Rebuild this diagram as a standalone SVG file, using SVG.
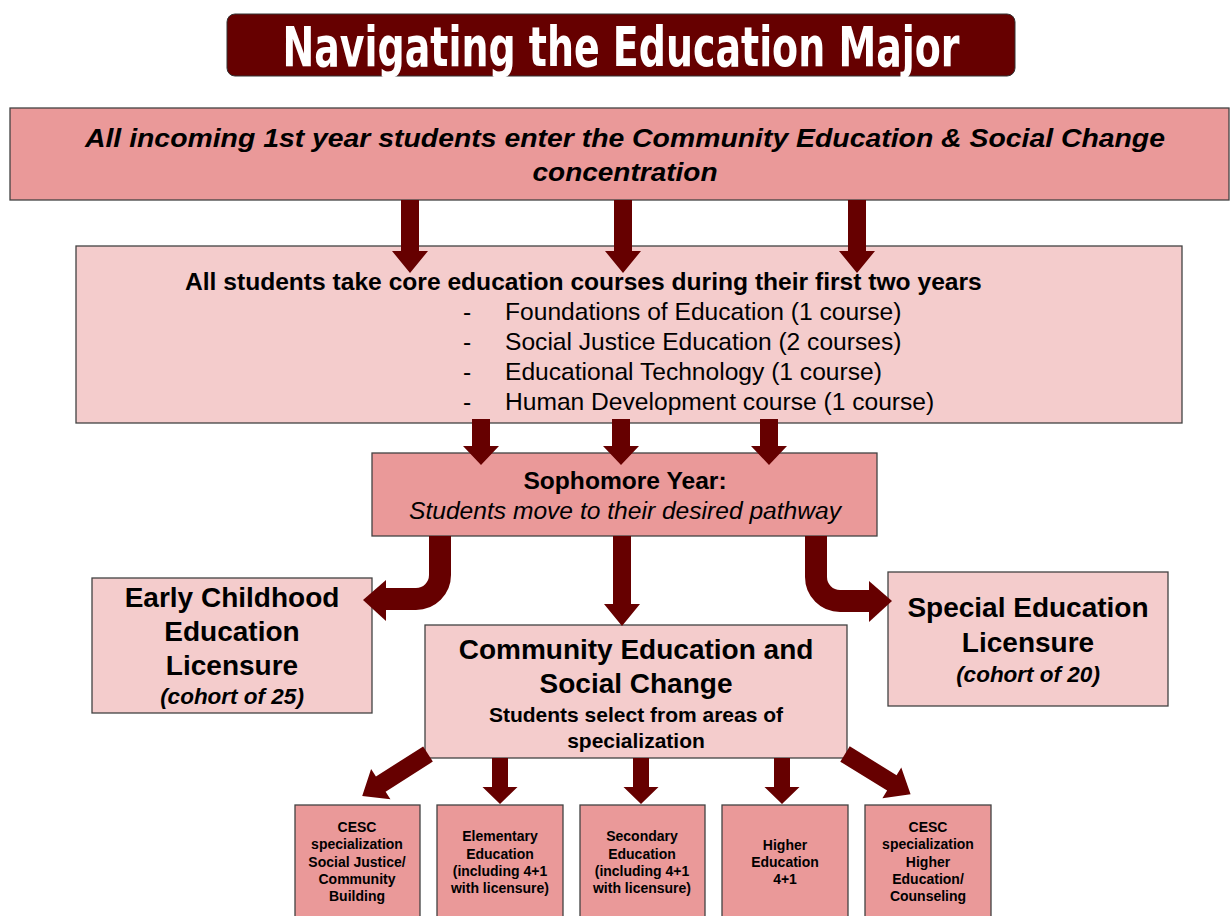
<svg xmlns="http://www.w3.org/2000/svg" width="1230" height="916" viewBox="0 0 1230 916">
<style>
  .box { stroke:#434343; stroke-width:1.3; }
  .dark { fill:#ea9999; }
  .light { fill:#f4cccc; }
  .t { font-family:"Liberation Sans", Arial, sans-serif; fill:#000; }
  .b { font-weight:bold; }
  .i { font-style:italic; }
  .c { text-anchor:middle; }
  .arr { fill:#660000; }
  .curve { fill:none; stroke:#660000; stroke-width:22; }
  .small { font-size:14px; font-weight:bold; }
</style>
<rect width="1230" height="916" fill="#ffffff"/>

<g id="title">
  <rect x="227" y="14" width="788" height="62" rx="8" fill="#660000" stroke="#333" stroke-width="1"/>
  <text x="621" y="66" class="c" font-family="'DejaVu Sans Condensed', 'Liberation Sans', sans-serif" font-weight="bold" font-size="56" fill="#ffffff" textLength="677" lengthAdjust="spacingAndGlyphs">Navigating the Education Major</text>
</g>

<g id="incoming">
  <rect x="10" y="108" width="1219" height="92" class="box dark"/>
  <text x="625" y="147" class="t b i c" font-size="26" textLength="1080" lengthAdjust="spacingAndGlyphs">All incoming 1st year students enter the Community Education &amp; Social Change</text>
  <text x="625" y="181" class="t b i c" font-size="26" textLength="185" lengthAdjust="spacingAndGlyphs">concentration</text>
</g>

<g id="core">
  <rect x="76" y="246" width="1106" height="177" class="box light"/>
  <text x="185" y="290" class="t b" font-size="24.6">All students take core education courses during their first two years</text>
  <g class="t" font-size="24.6">
    <text x="463" y="320">-</text><text x="505" y="320">Foundations of Education (1 course)</text>
    <text x="463" y="350">-</text><text x="505" y="350">Social Justice Education (2 courses)</text>
    <text x="463" y="380">-</text><text x="505" y="380">Educational Technology (1 course)</text>
    <text x="463" y="410">-</text><text x="505" y="410">Human Development course (1 course)</text>
  </g>
</g>

<g id="sophomore">
  <rect x="372" y="453" width="505" height="83" class="box dark"/>
  <text x="625" y="489" class="t b c" font-size="24.6">Sophomore Year:</text>
  <text x="625" y="519" class="t i c" font-size="24.6">Students move to their desired pathway</text>
</g>

<g id="early-childhood">
  <rect x="92" y="578" width="280" height="135" class="box light"/>
  <text x="232" y="607" class="t b c" font-size="28">Early Childhood</text>
  <text x="232" y="641" class="t b c" font-size="28">Education</text>
  <text x="232" y="675" class="t b c" font-size="28">Licensure</text>
  <text x="232" y="704" class="t b i c" font-size="22.5">(cohort of 25)</text>
</g>

<g id="special-education">
  <rect x="888" y="572" width="280" height="134" class="box light"/>
  <text x="1028" y="617" class="t b c" font-size="28">Special Education</text>
  <text x="1028" y="652" class="t b c" font-size="28">Licensure</text>
  <text x="1028" y="682" class="t b i c" font-size="22.5">(cohort of 20)</text>
</g>

<g id="community">
  <rect x="425" y="625" width="422" height="133" class="box light"/>
  <text x="636" y="659" class="t b c" font-size="28">Community Education and</text>
  <text x="636" y="693" class="t b c" font-size="28">Social Change</text>
  <text x="636" y="722" class="t b c" font-size="21">Students select from areas of</text>
  <text x="636" y="748" class="t b c" font-size="21">specialization</text>
</g>

<g id="cesc-social-justice">
  <rect x="295" y="805" width="125" height="120" class="box dark"/>
  <text x="357" y="832" class="t small c">CESC</text>
  <text x="357" y="849" class="t small c">specialization</text>
  <text x="357" y="867" class="t small c">Social Justice/</text>
  <text x="357" y="884" class="t small c">Community</text>
  <text x="357" y="901" class="t small c">Building</text>
</g>

<g id="elementary">
  <rect x="437" y="805" width="126" height="120" class="box dark"/>
  <text x="500" y="841" class="t small c">Elementary</text>
  <text x="500" y="859" class="t small c">Education</text>
  <text x="500" y="876" class="t small c">(including 4+1</text>
  <text x="500" y="893" class="t small c">with licensure)</text>
</g>

<g id="secondary">
  <rect x="580" y="805" width="125" height="120" class="box dark"/>
  <text x="642" y="841" class="t small c">Secondary</text>
  <text x="642" y="859" class="t small c">Education</text>
  <text x="642" y="876" class="t small c">(including 4+1</text>
  <text x="642" y="893" class="t small c">with licensure)</text>
</g>

<g id="higher-ed">
  <rect x="722" y="805" width="126" height="120" class="box dark"/>
  <text x="785" y="850" class="t small c">Higher</text>
  <text x="785" y="867" class="t small c">Education</text>
  <text x="785" y="884" class="t small c">4+1</text>
</g>

<g id="cesc-counseling">
  <rect x="865" y="805" width="126" height="120" class="box dark"/>
  <text x="928" y="832" class="t small c">CESC</text>
  <text x="928" y="849" class="t small c">specialization</text>
  <text x="928" y="867" class="t small c">Higher</text>
  <text x="928" y="884" class="t small c">Education/</text>
  <text x="928" y="901" class="t small c">Counseling</text>
</g>

<g id="connectors">
  <polygon class="arr" points="401,200 419,200 419,251 428,251 410,273 392,251 401,251"/>
  <polygon class="arr" points="614,200 632,200 632,251 641,251 623,273 605,251 614,251"/>
  <polygon class="arr" points="848,200 866,200 866,251 875,251 857,273 839,251 848,251"/>

  <polygon class="arr" points="472,419 490,419 490,446 499,446 481,465 463,446 472,446"/>
  <polygon class="arr" points="612,419 630,419 630,446 639,446 621,465 603,446 612,446"/>
  <polygon class="arr" points="760,419 778,419 778,446 787,446 769,465 751,446 760,446"/>

  <path class="curve" d="M440,536 V575 A24,24 0 0 1 416,599 H384"/>
  <polygon class="arr" points="386,580 363,600 386,621"/>
  <polygon class="arr" points="613,536 631,536 631,604 640,604 622,626 604,604 613,604"/>
  <path class="curve" d="M816,536 V577 A24,24 0 0 0 840,601 H871"/>
  <polygon class="arr" points="869,581 892,601 869,622"/>

  <polygon class="arr" transform="translate(428,754) rotate(147.5)" points="0,-9 56,-9 56,-18 78,0 56,18 56,9 0,9"/>
  <polygon class="arr" points="492,758 508,758 508,787 517.5,787 500,804 482.5,787 492,787"/>
  <polygon class="arr" points="633,758 649,758 649,787 658.5,787 641,804 623.5,787 633,787"/>
  <polygon class="arr" points="774,758 790,758 790,787 799.5,787 782,804 764.5,787 774,787"/>
  <polygon class="arr" transform="translate(845,754) rotate(31.6)" points="0,-9 55,-9 55,-18 77,0 55,18 55,9 0,9"/>
</g>
</svg>
